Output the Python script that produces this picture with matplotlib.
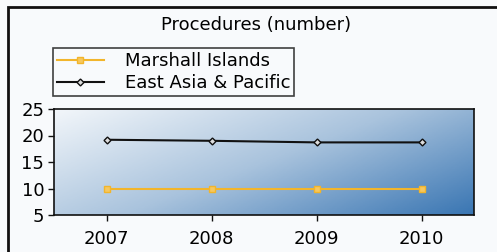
import numpy as np
import matplotlib.pyplot as plt
from matplotlib.colors import LinearSegmentedColormap
from matplotlib.patches import Rectangle

years = [2007, 2008, 2009, 2010]
marshall = [10, 10, 10, 10]
east_asia = [19.2, 19.0, 18.7, 18.7]
yticks = [5, 10, 15, 20, 25]

W, H = 497, 252
fs = 13
fig = plt.figure(figsize=(W / 100, H / 100), dpi=100)
fig.patch.set_facecolor('#f8fafc')

# outer frame (only top/left visible)
fig.add_artist(Rectangle((8 / W, -0.1), 1.2, 1 - 7 / H + 0.1, transform=fig.transFigure,
                         fill=False, edgecolor='#111111', linewidth=2, clip_on=False))

ax = fig.add_axes([54 / W, 1 - 215 / H, 420 / W, 106 / H])

# diagonal gradient background
gx, gy = np.meshgrid(np.linspace(0, 1, 200), np.linspace(0, 1, 60))
grad = 0.6 * gx + 0.4 * gy
cmap = LinearSegmentedColormap.from_list('bg', ['#f2f6fa', '#a9c3dd', '#3a76b3'])
ax.imshow(grad, extent=[0, 1, 0, 1], transform=ax.transAxes, cmap=cmap,
          aspect='auto', origin='upper', zorder=0)

x = np.arange(len(years))
ax.plot(x, marshall, color='#f2b52b', lw=1.5, marker='s', ms=4,
        mfc='#f6c860', mec='#f2b52b', label='Marshall Islands', zorder=3)
ax.plot(x, east_asia, color='#111111', lw=1.5, marker='D', ms=3.5,
        mfc='#dddddd', mec='#111111', label='East Asia & Pacific', zorder=3)

ax.set_xlim(-0.5, len(years) - 0.5)
ax.set_ylim(5, 25)
ax.set_xticks(x)
ax.set_xticklabels([str(y) for y in years], fontsize=fs)
ax.set_yticks(yticks)
ax.set_yticklabels([str(t) for t in yticks], fontsize=fs)
ax.tick_params(direction='out', length=4, width=1, color='#111111', pad=3)
ax.tick_params(axis='x', pad=7)
for s in ax.spines.values():
    s.set_color('#111111')
    s.set_linewidth(1.2)

fig.text(256 / W, 1 - 25 / H, 'Procedures (number)', ha='center', va='center', fontsize=fs)

leg = fig.legend(loc='upper left', bbox_to_anchor=(53 / W, 1 - 48 / H), fontsize=fs,
                 frameon=True, fancybox=False, borderaxespad=0, handlelength=2.6,
                 borderpad=0.22, labelspacing=0.25, handletextpad=1.15)
leg.get_frame().set_edgecolor('#111111')
leg.get_frame().set_linewidth(1.2)
leg.get_frame().set_facecolor('#f8fafc')

fig.savefig('out.png', dpi=100, facecolor=fig.get_facecolor())
